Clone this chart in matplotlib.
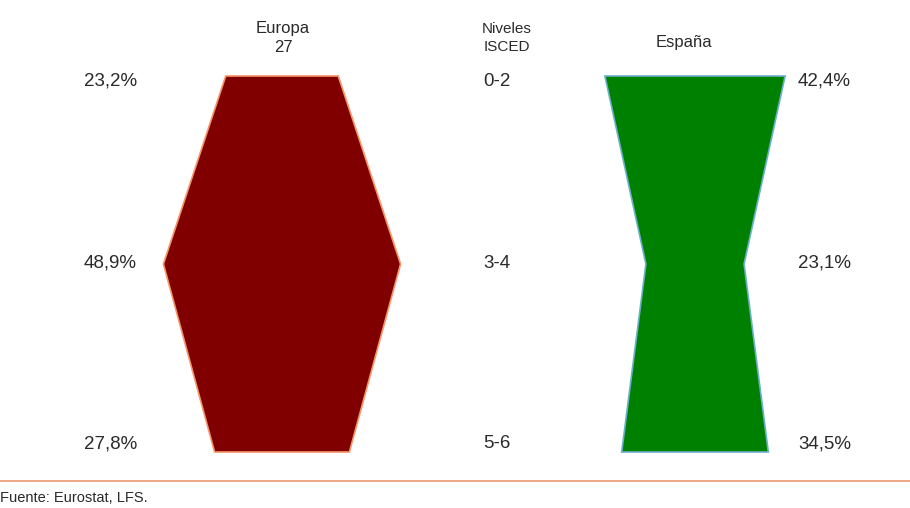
import matplotlib
matplotlib.use("Agg")
import matplotlib.pyplot as plt
from matplotlib.patches import Polygon

# ---- data ----
levels = ["0-2", "3-4", "5-6"]
europa = [23.2, 48.9, 27.8]
espana = [42.4, 23.1, 34.5]
europa_labels = ["23,2%", "48,9%", "27,8%"]
espana_labels = ["42,4%", "23,1%", "34,5%"]
title_left = "Europa\n27"
title_mid = "Niveles\nISCED"
title_right = "España"
source = "Fuente: Eurostat, LFS."

W, H = 910, 508
plt.rcParams['font.family'] = ['Liberation Sans', 'DejaVu Sans']
fig = plt.figure(figsize=(W / 100, H / 100), dpi=100)

# overlay axes in pixel coordinates for text
ov = fig.add_axes([0, 0, 1, 1])
ov.set_xlim(0, W)
ov.set_ylim(H, 0)
ov.axis('off')

row_top, row_bot = 76, 452


def shape_axes(center_px, px_per_unit, half_px=140):
    left = (center_px - half_px) / W
    bottom = (H - row_bot) / H
    ax = fig.add_axes([left, bottom, 2 * half_px / W, (row_bot - row_top) / H])
    half = half_px / px_per_unit
    ax.set_xlim(-half, half)
    ax.set_ylim(len(levels) - 1, 0)
    ax.axis('off')
    return ax


def funnel(ax, values, face, edge):
    left = [(-v / 2, i) for i, v in enumerate(values)]
    right = [(v / 2, i) for i, v in reversed(list(enumerate(values)))]
    poly = Polygon(left + right, closed=True, facecolor=face, edgecolor=edge,
                   linewidth=1.2, clip_on=False, joinstyle='miter')
    ax.add_patch(poly)


ax_eu = shape_axes(282, 4.85)
funnel(ax_eu, europa, '#800000', '#f4956a')
ax_es = shape_axes(695, 4.25)
funnel(ax_es, espana, '#008000', '#6ab0c8')

fs = 13.5
col = '#2a2a2a'
ys = [row_top + 5, (row_top + row_bot) / 2 - 1, row_bot - 8]
for y, lv, el, sl in zip(ys, levels, europa_labels, espana_labels):
    ov.text(137, y, el, ha='right', va='center', fontsize=fs, color=col)
    ov.text(497, y, lv, ha='center', va='center', fontsize=fs, color=col)
    ov.text(798, y, sl, ha='left', va='center', fontsize=fs, color=col)

hfs = 12
ov.text(283, 38, title_left, ha='center', va='center', fontsize=hfs,
        color=col, linespacing=1.3)
ov.text(507, 38, title_mid, ha='center', va='center', fontsize=hfs - 1,
        color=col, linespacing=1.4)
ov.text(684, 42, title_right, ha='center', va='center', fontsize=hfs,
        color=col)

ov.plot([0, W], [481, 481], color='#eba27a', linewidth=1.3)
ov.text(0, 498, source, ha='left', va='center', fontsize=10.5, color=col)

fig.savefig("out.png", dpi=100)
